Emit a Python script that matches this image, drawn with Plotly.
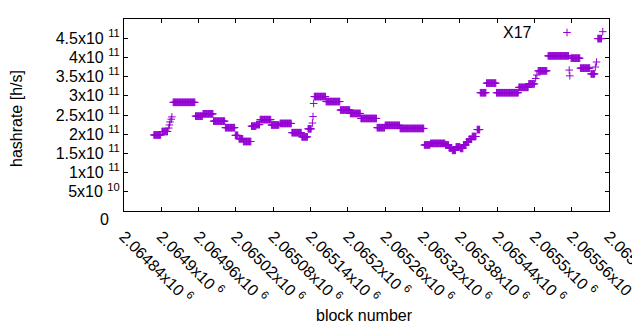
import plotly.graph_objects as go

# Runs of consecutive blocks sharing the same estimated hashrate
run_first = [2064888, 2064901, 2064912, 2064913, 2064914, 2064916, 2064917, 2064919, 2064955, 2064967,
             2064984, 2065003, 2065019, 2065025, 2065032, 2065045, 2065053, 2065059, 2065077, 2065091,
             2065110, 2065126, 2065136, 2065143, 2065144, 2065145, 2065146, 2065165, 2065188, 2065204,
             2065221, 2065247, 2065260, 2065284, 2065323, 2065333, 2065357, 2065363, 2065368, 2065374,
             2065381, 2065386, 2065391, 2065395, 2065400, 2065408, 2065413, 2065423, 2065439, 2065475,
             2065491, 2065502, 2065504, 2065506, 2065522, 2065556, 2065557, 2065559, 2065574, 2065591,
             2065598, 2065600, 2065602, 2065610]
run_last = [2064899, 2064910, 2064912, 2064913, 2064914, 2064916, 2064917, 2064954, 2064966, 2064983,
            2065002, 2065018, 2065023, 2065031, 2065044, 2065052, 2065058, 2065076, 2065089, 2065109,
            2065125, 2065135, 2065141, 2065143, 2065144, 2065145, 2065164, 2065187, 2065203, 2065220,
            2065246, 2065259, 2065283, 2065322, 2065332, 2065356, 2065362, 2065367, 2065373, 2065380,
            2065385, 2065390, 2065394, 2065399, 2065406, 2065412, 2065422, 2065438, 2065474, 2065490,
            2065500, 2065502, 2065504, 2065520, 2065555, 2065556, 2065557, 2065573, 2065589, 2065597,
            2065598, 2065600, 2065608, 2065610]
run_hashrate = [1.98e11, 2.07e11, 2.16e11, 2.24e11, 2.32e11, 2.39e11, 2.45e11, 2.83e11, 2.47e11, 2.53e11,
                2.34e11, 2.17e11, 1.97e11, 1.88e11, 1.81e11, 2.21e11, 2.25e11, 2.38e11, 2.24e11, 2.28e11,
                2.04e11, 1.93e11, 2.14e11, 2.29e11, 2.46e11, 2.80e11, 2.98e11, 2.85e11, 2.63e11, 2.54e11,
                2.41e11, 2.17e11, 2.23e11, 2.15e11, 1.72e11, 1.76e11, 1.72e11, 1.64e11, 1.58e11, 1.67e11,
                1.63e11, 1.72e11, 1.80e11, 1.87e11, 1.94e11, 2.12e11, 3.08e11, 3.33e11, 3.08e11, 3.22e11,
                3.31e11, 3.45e11, 3.54e11, 3.65e11, 4.04e11, 3.67e11, 3.52e11, 3.98e11, 3.72e11, 3.57e11,
                3.75e11, 3.88e11, 4.49e11, 4.67e11]

x_tick_values = [2064840, 2064900, 2064960, 2065020, 2065080, 2065140, 2065200,
                 2065260, 2065320, 2065380, 2065440, 2065500, 2065560, 2065620]
x_tick_labels = ["2.06484x10 <sup>6</sup>", "2.0649x10 <sup>6</sup>", "2.06496x10 <sup>6</sup>",
                 "2.06502x10 <sup>6</sup>", "2.06508x10 <sup>6</sup>", "2.06514x10 <sup>6</sup>",
                 "2.0652x10 <sup>6</sup>", "2.06526x10 <sup>6</sup>", "2.06532x10 <sup>6</sup>",
                 "2.06538x10 <sup>6</sup>", "2.06544x10 <sup>6</sup>", "2.0655x10 <sup>6</sup>",
                 "2.06556x10 <sup>6</sup>", "2.06562x10 <sup>6</sup>"]
y_tick_values = [0, 5e10, 1e11, 1.5e11, 2e11, 2.5e11, 3e11, 3.5e11, 4e11, 4.5e11, 5e11]
y_tick_labels = ["", "5x10 <sup>10</sup>", "1x10 <sup>11</sup>", "1.5x10 <sup>11</sup>",
                 "2x10 <sup>11</sup>", "2.5x10 <sup>11</sup>", "3x10 <sup>11</sup>",
                 "3.5x10 <sup>11</sup>", "4x10 <sup>11</sup>", "4.5x10 <sup>11</sup>",
                 "5x10 <sup>11</sup>"]

series_name = "X17"
color = "#9400D3"
font = "Liberation Sans, Arial, sans-serif"

blocks, rates = [], []
for a, b, v in zip(run_first, run_last, run_hashrate):
    for blk in range(a, b + 1):
        blocks.append(blk)
        rates.append(v)

fig = go.Figure()
fig.add_trace(go.Scatter(
    x=blocks, y=rates, mode="markers", name=series_name, showlegend=False,
    marker=dict(symbol="cross-thin", size=5.4, color=color,
                line=dict(color=color, width=1)),
))
# empty helper trace so the overlay axis (inside ticks) gets drawn
fig.add_trace(go.Scatter(x=[], y=[], xaxis="x2", yaxis="y", showlegend=False, hoverinfo="skip"))

# the page body adds an 8px offset, so margins are measured from (8, 8)
OFF = 8
W, H = 640, 330
L, R, T, B = 124 - OFF, W - (609 - OFF), 19 - OFF, H - (211 - OFF)
pw, ph = W - L - R, H - T - B

def px_x(px):
    return (px - OFF - L) / pw

def px_y(py):
    return (H - B - (py - OFF)) / ph

x_range = [2064840, 2065620]
tickfont = dict(family=font, size=16, color="black")

fig.update_layout(
    width=W, height=H, margin=dict(l=L, r=R, t=T, b=B, pad=0),
    paper_bgcolor="white", plot_bgcolor="white",
    font=dict(family=font, size=16, color="black"),
    xaxis=dict(range=x_range, tickmode="array", tickvals=x_tick_values,
               ticktext=x_tick_labels, tickangle=45,
               ticks="outside", ticklen=9, tickcolor="rgba(0,0,0,0)",
               showline=True, linecolor="black", linewidth=1, mirror=True,
               showgrid=False, zeroline=False, automargin=False,
               ticklabeloverflow="allow", tickfont=tickfont),
    xaxis2=dict(range=x_range, overlaying="x", side="bottom", tickmode="array",
                tickvals=x_tick_values, showticklabels=False,
                ticks="inside", ticklen=4, tickcolor="black", tickwidth=1,
                showline=False, mirror="ticks", showgrid=False, zeroline=False,
                automargin=False),
    yaxis=dict(range=[0, 5e11], tickmode="array", tickvals=y_tick_values,
               ticktext=y_tick_labels,
               showline=True, linecolor="black", linewidth=1, mirror="ticks",
               ticks="inside", ticklen=4, tickcolor="black", tickwidth=1,
               showgrid=False, zeroline=False, automargin=False, tickfont=tickfont),
    annotations=[
        dict(text="0", xref="paper", yref="paper", x=px_x(111), y=0, xanchor="right",
             yanchor="middle", yshift=-8, showarrow=False, font=tickfont),
        dict(text="block number", xref="paper", yref="paper", x=px_x(364), y=px_y(315),
             xanchor="center", yanchor="middle", showarrow=False, font=dict(family=font, size=16)),
        dict(text="hashrate [h/s]", xref="paper", yref="paper", x=px_x(17), y=px_y(119),
             xanchor="center", yanchor="middle", textangle=-90, showarrow=False,
             font=dict(family=font, size=16)),
        dict(text=series_name, xref="paper", yref="paper", x=px_x(534), y=px_y(32),
             xanchor="right", yanchor="middle", showarrow=False, font=dict(family=font, size=16)),
    ],
    shapes=[
        dict(type="line", xref="paper", yref="paper", xsizemode="pixel", ysizemode="pixel",
             xanchor=px_x(567), yanchor=px_y(32.5), x0=-3.8, x1=3.8, y0=0, y1=0,
             line=dict(color=color, width=1)),
        dict(type="line", xref="paper", yref="paper", xsizemode="pixel", ysizemode="pixel",
             xanchor=px_x(567), yanchor=px_y(32.5), x0=0, x1=0, y0=-3.8, y1=3.8,
             line=dict(color=color, width=1)),
    ],
)

fig.write_html("out.html")
